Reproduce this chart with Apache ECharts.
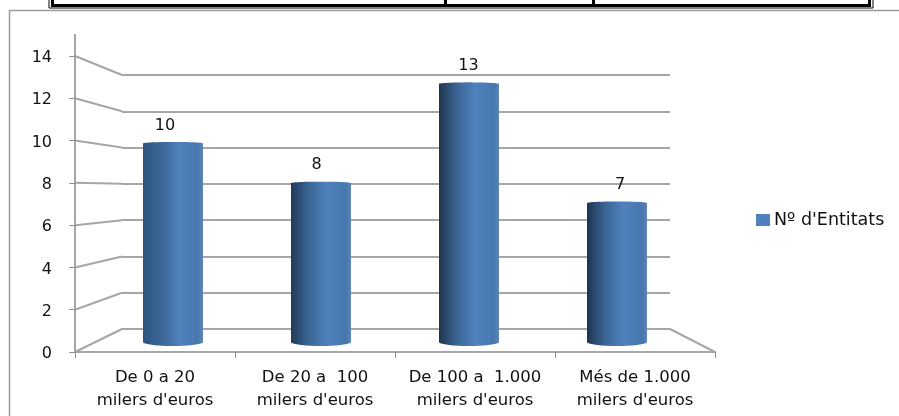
<!DOCTYPE html>
<html><head><meta charset="utf-8">
<style>html,body{margin:0;padding:0;background:#fff}#c{width:899px;height:416px}</style>
<script src="https://cdn.jsdelivr.net/npm/echarts@6/dist/echarts.min.js"></script>
</head><body><div id="c"></div>
<script>
const categories = ["De 0 a 20\nmilers d'euros","De 20 a  100\nmilers d'euros","De 100 a  1.000\nmilers d'euros","Més de 1.000\nmilers d'euros"];
const seriesName = "Nº d'Entitats";
const values = [10, 8, 13, 7];
const yTicks = [0, 2, 4, 6, 8, 10, 12, 14];
const barShade = ['#2f5480', '#223b5b', '#20354f', '#1f3350'];

const FONT = '"DejaVu Sans", sans-serif';
const GRAY = '#a6a6a6';
const chart = echarts.init(document.getElementById('c'), null, {renderer: 'canvas'});
const front = {left: 75, top: 56, width: 640, height: 296};
const wall = {left: 122, top: 75, width: 548, height: 254};
const plane = {left: 99, top: 64, width: 592, height: 278};

function hAxis(i, show) {
  return {type: 'category', gridIndex: i, data: categories, show,
    axisLine: {show, lineStyle: {color: GRAY, width: 2}},
    axisTick: {show, alignWithLabel: false, length: 6, lineStyle: {color: '#8c8c8c', width: 1}},
    axisLabel: {show, color: '#111', fontFamily: FONT, fontSize: 16.5, lineHeight: 23, margin: 14, interval: 0}};
}
function vAxis(i, show, split) {
  return {type: 'value', gridIndex: i, min: 0, max: 14, interval: 2, show: show || split,
    axisLine: {show, onZero: false, lineStyle: {color: GRAY, width: 2}},
    axisTick: {show, length: 6, lineStyle: {color: '#8c8c8c', width: 1}},
    axisLabel: {show, color: '#111', fontFamily: FONT, fontSize: 16, margin: 23, verticalAlign: 'top', lineHeight: 4},
    splitLine: {show: split, lineStyle: {color: GRAY, width: 2}}};
}
function renderDiagonal(params, api) {
  const v = api.value(0);
  const back = api.coord([0, v]);
  const fy = front.top + front.height * (1 - v / 14);
  return {type: 'line', silent: true,
    shape: {x1: front.left, y1: fy, x2: wall.left, y2: back[1]},
    style: {stroke: GRAY, lineWidth: 2, fill: null}};
}
function renderCylinder(params, api) {
  const i = api.value(0), v = api.value(1);
  const top = api.coord([i, v]), base = api.coord([i, 0]);
  const rx = 30, ryT = 1.5, ryB = 4;
  const pts = [];
  for (let a = 0; a <= 40; a++) {
    const t = Math.PI * a / 40;
    pts.push([top[0] - rx * Math.cos(t), top[1] - ryT * Math.sin(t)]);
  }
  for (let a = 0; a <= 40; a++) {
    const t = Math.PI * a / 40;
    pts.push([base[0] + rx * Math.cos(t), base[1] + ryB * Math.sin(t)]);
  }
  const fill = new echarts.graphic.LinearGradient(0, 0, 1, 0, [
    {offset: 0, color: barShade[i]},
    {offset: 0.3, color: '#3a6595'},
    {offset: 0.6, color: '#4f81bd'},
    {offset: 0.92, color: '#4877ae'},
    {offset: 1, color: '#5f86b5'}
  ]);
  return {type: 'group', children: [
    {type: 'polygon', shape: {points: pts}, style: {fill}},
    {type: 'text', x: top[0] - 8 + i * 3.7, y: top[1] - 18,
     style: {text: String(v), fill: '#111', font: '16px ' + FONT, align: 'center', verticalAlign: 'middle'}}
  ]};
}
chart.setOption({
  animation: false, backgroundColor: '#fff',
  grid: [front, wall, plane].map(g => ({...g, containLabel: false})),
  xAxis: [hAxis(0, true), hAxis(1, false), hAxis(2, false)],
  yAxis: [vAxis(0, true, false), vAxis(1, false, true), {...vAxis(2, false, false), show: false}],
  legend: {left: 756, top: 211, padding: 0, itemWidth: 14, itemHeight: 12, itemGap: 5, icon: 'rect',
    data: [seriesName], textStyle: {color: '#111', fontFamily: FONT, fontSize: 17.5, padding: [0,0,0,-1]}, selectedMode: false},
  series: [
    {type: 'custom', name: 'eixos', xAxisIndex: 1, yAxisIndex: 1, silent: true, z: 1,
     data: yTicks.map(v => [v]), encode: {y: 0}, renderItem: renderDiagonal},
    {type: 'custom', name: seriesName, xAxisIndex: 2, yAxisIndex: 2, z: 3,
     itemStyle: {color: '#4f81bd'}, encode: {x: 0, y: 1},
     data: values.map((v, i) => [i, v]), renderItem: renderCylinder}
  ],
  graphic: {elements: [
    {type: 'group', silent: true, z: 0, children: [
      {type: 'line', shape: {x1: 75, y1: 56, x2: 75, y2: 34}, style: {stroke: GRAY, lineWidth: 2}},
      {type: 'line', shape: {x1: 670, y1: 329, x2: 715, y2: 352}, style: {stroke: GRAY, lineWidth: 2}},
      {type: 'line', shape: {x1: 9.5, y1: 10.5, x2: 899, y2: 10.5}, style: {stroke: '#9a9a9a', lineWidth: 1.5}},
      {type: 'line', shape: {x1: 9.5, y1: 10, x2: 9.5, y2: 416}, style: {stroke: '#9a9a9a', lineWidth: 1.5}},
      {type: 'rect', shape: {x: 49, y: -3, width: 824, height: 11}, style: {fill: null, stroke: '#000', lineWidth: 1}},
      {type: 'rect', shape: {x: 52.5, y: -3, width: 817, height: 8.5}, style: {fill: null, stroke: '#000', lineWidth: 3}},
      {type: 'line', shape: {x1: 445.5, y1: 0, x2: 445.5, y2: 5}, style: {stroke: '#000', lineWidth: 3}},
      {type: 'line', shape: {x1: 593.5, y1: 0, x2: 593.5, y2: 5}, style: {stroke: '#000', lineWidth: 3}}
    ]}
  ]}
});
</script></body></html>
